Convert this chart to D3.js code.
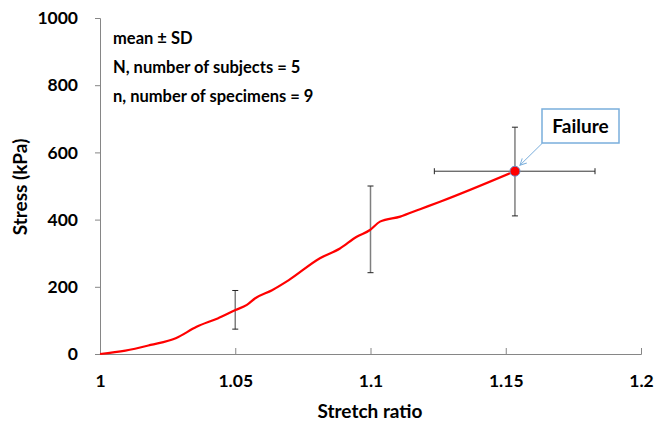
<!DOCTYPE html>
<html>
<head>
<meta charset="utf-8">
<script src="https://cdn.jsdelivr.net/npm/d3@7"></script>
<style>
  body { margin: 0; background: #fff; }
  text { font-family: Lato, "Open Sans", sans-serif; font-weight: bold; }
</style>
</head>
<body>
<div class="box"></div>
<script>
// mean stress-stretch curve
const stretch = [1, 1.0094, 1.0187, 1.028, 1.0357, 1.0435, 1.0501, 1.0543, 1.0574, 1.0636, 1.0698,
                 1.0813, 1.0887, 1.0949, 1.0998, 1.1035, 1.111, 1.1183, 1.1257, 1.1534];
const stress  = [0, 10, 27, 47, 81, 106, 131, 146, 166, 190, 220,
                 285, 314, 349, 369, 394, 409, 431, 453, 544];

// error bars: x, y-low, y-high
const errX    = [1.05, 1.1, 1.1534];
const errLow  = [74, 242, 411];
const errHigh = [189, 500, 675];
// horizontal SD at failure
const failX = 1.1534, failY = 544, failXLow = 1.1236, failXHigh = 1.183;

const xTicks = [1, 1.05, 1.1, 1.15, 1.2];
const yTicks = [0, 200, 400, 600, 800, 1000];
const notes = ['mean \u00b1 SD', 'N, number of subjects = 5', 'n, number of specimens = 9'];

const svg = d3.select('.box').append('svg')
  .attr('width', 655)
  .attr('height', 426);

const x = d3.scaleLinear().domain([1, 1.2]).range([100, 641]);
const y = d3.scaleLinear().domain([0, 1000]).range([354, 18]);

const axisColor = '#868686';

// y axis
const gy = svg.append('g')
  .attr('transform', 'translate(100,0)')
  .call(d3.axisLeft(y).tickValues(yTicks).tickSize(5).tickPadding(17).tickFormat(d3.format('')));
gy.selectAll('path, line').attr('stroke', axisColor);
gy.selectAll('text').attr('font-size', 17.5).attr('fill', '#000')
  .attr('font-family', 'Lato, sans-serif').attr('font-weight', 'bold');

// x axis (ticks point inward)
const gx = svg.append('g')
  .attr('transform', 'translate(0,354)')
  .call(d3.axisBottom(x).tickValues(xTicks).tickSize(-6).tickFormat(d3.format('')).tickPadding(21));
gx.selectAll('path, line').attr('stroke', axisColor);
gx.selectAll('text').attr('font-size', 17.5).attr('fill', '#000')
  .attr('font-family', 'Lato, sans-serif').attr('font-weight', 'bold');

// axis titles
svg.append('text')
  .attr('x', 370).attr('y', 418)
  .attr('text-anchor', 'middle')
  .attr('font-size', 19)
  .text('Stretch ratio');

svg.append('text')
  .attr('transform', 'translate(27,187) rotate(-90)')
  .attr('text-anchor', 'middle')
  .attr('font-size', 19)
  .text('Stress (kPa)');

// notes
svg.selectAll('.note').data(notes).enter().append('text')
  .attr('class', 'note')
  .attr('x', 113)
  .attr('y', (d, i) => 44 + i * 29)
  .attr('font-size', 16.5)
  .text(d => d);

// vertical error bars
const eb = svg.append('g');
errX.forEach((d, i) => {
  eb.append('line')
    .attr('x1', x(d)).attr('x2', x(d))
    .attr('y1', y(errLow[i])).attr('y2', y(errHigh[i]))
    .attr('stroke', '#7f7f7f').attr('stroke-width', 1.5);
  [errLow[i], errHigh[i]].forEach(v => {
    eb.append('line')
      .attr('x1', x(d) - 3).attr('x2', x(d) + 3)
      .attr('y1', y(v)).attr('y2', y(v))
      .attr('stroke', '#222').attr('stroke-width', 1);
  });
});

// horizontal error bar at failure
eb.append('line')
  .attr('x1', x(failXLow)).attr('x2', x(failXHigh))
  .attr('y1', y(failY)).attr('y2', y(failY))
  .attr('stroke', '#333').attr('stroke-width', 1);
[failXLow, failXHigh].forEach(v => {
  eb.append('line')
    .attr('x1', x(v)).attr('x2', x(v))
    .attr('y1', y(failY) - 3).attr('y2', y(failY) + 3)
    .attr('stroke', '#222').attr('stroke-width', 1);
});

// curve
const line = d3.line()
  .x((d, i) => x(stretch[i]))
  .y(d => y(d))
  .curve(d3.curveMonotoneX);

svg.append('path')
  .datum(stress)
  .attr('d', line)
  .attr('fill', 'none')
  .attr('stroke', '#ff0000')
  .attr('stroke-width', 2.2);

// failure point
svg.append('circle')
  .attr('cx', x(failX)).attr('cy', y(failY))
  .attr('r', 5)
  .attr('fill', '#ff0000')
  .attr('stroke', '#6f8fc8')
  .attr('stroke-width', 1);

// callout
const callout = svg.append('g');
callout.append('rect')
  .attr('x', 542).attr('y', 109)
  .attr('width', 77).attr('height', 34)
  .attr('fill', '#fff')
  .attr('stroke', '#7aaedc')
  .attr('stroke-width', 1.5);
callout.append('text')
  .attr('x', 580.5).attr('y', 133)
  .attr('text-anchor', 'middle')
  .attr('font-size', 19)
  .text('Failure');

svg.append('defs').append('marker')
  .attr('id', 'arr')
  .attr('viewBox', '0 0 10 10')
  .attr('refX', 9).attr('refY', 5)
  .attr('markerWidth', 8).attr('markerHeight', 8)
  .attr('orient', 'auto')
  .append('path')
  .attr('d', 'M1,1 L9,5 L1,9')
  .attr('fill', 'none')
  .attr('stroke', '#7aaedc')
  .attr('stroke-width', 1.2);

callout.append('line')
  .attr('x1', 542.5).attr('y1', 143)
  .attr('x2', x(failX) + 5).attr('y2', y(failY) - 6)
  .attr('stroke', '#7aaedc')
  .attr('stroke-width', 1)
  .attr('marker-end', 'url(#arr)');
</script>
</body>
</html>
